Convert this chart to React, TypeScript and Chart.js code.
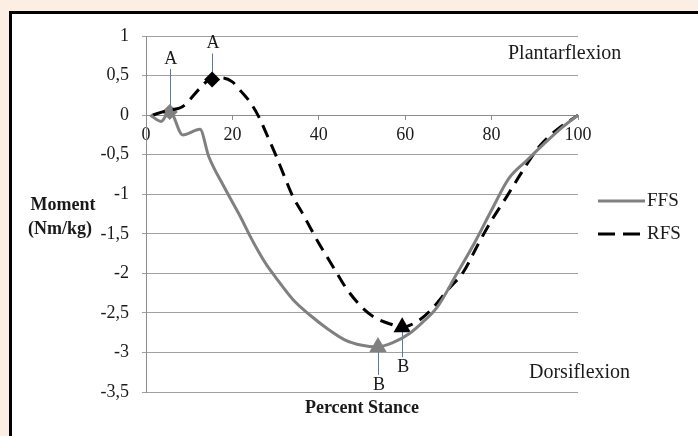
import { useEffect, useRef } from "react";
import { Chart, registerables } from "chart.js";

Chart.register(...registerables);

// ---- data ----
const SERIES_NAMES = ["FFS", "RFS"];

const FFS_X = [1, 3.5, 5.5, 8.5, 12.5, 14.5, 18, 22, 24, 26, 28, 30, 34, 38, 42, 46, 50, 53.5, 57, 61, 64, 67.5, 72, 76, 80, 84, 88, 92, 96, 100];
const FFS_Y = [0, -0.08, 0.05, -0.25, -0.18, -0.52, -0.9, -1.3, -1.52, -1.72, -1.9, -2.05, -2.33, -2.53, -2.7, -2.84, -2.91, -2.93, -2.88, -2.76, -2.62, -2.42, -2.0, -1.62, -1.2, -0.8, -0.58, -0.37, -0.17, 0];

const RFS_X = [1.5, 5, 8.5, 12.5, 15, 17.5, 20, 22, 24, 26, 28, 30, 32, 34, 36, 38, 40, 42, 44, 46.5, 50, 53, 56.5, 59.3, 63, 66, 70, 73.5, 77, 80, 83.5, 87, 91, 95, 100];
const RFS_Y = [0, 0.06, 0.11, 0.34, 0.46, 0.47, 0.42, 0.3, 0.17, -0.01, -0.25, -0.5, -0.77, -1.03, -1.22, -1.42, -1.62, -1.8, -1.98, -2.2, -2.43, -2.56, -2.64, -2.68, -2.6, -2.46, -2.2, -1.98, -1.62, -1.33, -1.03, -0.72, -0.4, -0.19, 0];

const MARK_LABELS = ["A", "B"];
const FFS_MARK_X = [5.5, 53.7];
const FFS_MARK_Y = [0.04, -2.93];
const RFS_MARK_X = [15.3, 59.3];
const RFS_MARK_Y = [0.45, -2.68];

const X_MIN = 0;
const X_MAX = 100;
const X_STEP = 20;
const Y_MIN = -3.5;
const Y_MAX = 1;
const Y_STEP = 0.5;

const SERIF = '"Liberation Serif", "Times New Roman", serif';
const GRAY = "#808080";
const TEXT = "#1a1a1a";
const LEADER = "#5a7ba3";

const toXY = (xs: number[], ys: number[]) => xs.map((x, i) => ({ x, y: ys[i] }));

const bgPlugin = {
  id: "bgFrame",
  beforeDraw(chart: any) {
    const { ctx, width, height } = chart;
    ctx.save();
    ctx.fillStyle = "#fdeee4";
    ctx.fillRect(0, 0, width, height);
    ctx.fillStyle = "#ffffff";
    ctx.fillRect(10, 12, width, height);
    ctx.strokeStyle = "#000";
    ctx.lineWidth = 3;
    ctx.strokeRect(10.5, 12.5, width + 20, height + 20);
    ctx.restore();
  },
};

// label offset (px) from marker centre, per series / per marker
const LABEL_DY = [
  [-53, 38],
  [-36, 40],
];

const annotPlugin = {
  id: "annot",
  beforeDatasetsDraw(chart: any) {
    const { ctx } = chart;
    const xs = chart.scales.x;
    const ys = chart.scales.y;
    const sets = [
      [FFS_MARK_X, FFS_MARK_Y],
      [RFS_MARK_X, RFS_MARK_Y],
    ];
    ctx.save();
    ctx.strokeStyle = LEADER;
    ctx.lineWidth = 1;
    sets.forEach(([mx, my], s) => {
      mx.forEach((v, i) => {
        const px = Math.round(xs.getPixelForValue(v)) + 0.5;
        const py = ys.getPixelForValue(my[i]);
        const dy = LABEL_DY[s][i];
        const end = py + dy + (dy < 0 ? 10 : -10);
        ctx.beginPath();
        ctx.moveTo(px, py);
        ctx.lineTo(px, end);
        ctx.stroke();
      });
    });
    ctx.restore();
  },
  afterDatasetsDraw(chart: any) {
    const { ctx } = chart;
    const xs = chart.scales.x;
    const ys = chart.scales.y;
    const sets = [
      [FFS_MARK_X, FFS_MARK_Y],
      [RFS_MARK_X, RFS_MARK_Y],
    ];
    ctx.save();
    ctx.fillStyle = TEXT;
    ctx.font = `18px ${SERIF}`;
    ctx.textAlign = "center";
    ctx.textBaseline = "middle";
    sets.forEach(([mx, my], s) => {
      mx.forEach((v, i) => {
        const px = xs.getPixelForValue(v);
        const py = ys.getPixelForValue(my[i]);
        ctx.fillText(MARK_LABELS[i], px + 1, py + LABEL_DY[s][i]);
      });
    });
    ctx.restore();
  },
  afterDraw(chart: any) {
    const { ctx, chartArea } = chart;
    ctx.save();
    ctx.fillStyle = TEXT;
    ctx.textBaseline = "middle";
    // axis titles
    ctx.font = `bold 18px ${SERIF}`;
    ctx.textAlign = "center";
    ctx.fillText("Moment", 63, 205);
    ctx.fillText("(Nm/kg)", 60, 229);
    ctx.fillText("Percent Stance", (chartArea.left + chartArea.right) / 2, 408);
    // region labels
    ctx.font = `20px ${SERIF}`;
    ctx.textAlign = "left";
    ctx.fillText("Plantarflexion", 508, 54);
    ctx.fillText("Dorsiflexion", 529, 373);
    // legend
    ctx.lineWidth = 3;
    ctx.lineCap = "butt";
    ctx.strokeStyle = GRAY;
    ctx.setLineDash([]);
    ctx.beginPath();
    ctx.moveTo(598, 201);
    ctx.lineTo(645, 201);
    ctx.stroke();
    ctx.strokeStyle = "#000";
    ctx.setLineDash([17, 8]);
    ctx.beginPath();
    ctx.moveTo(598, 234);
    ctx.lineTo(640, 234);
    ctx.stroke();
    ctx.setLineDash([]);
    ctx.font = `19px ${SERIF}`;
    ctx.fillText(SERIES_NAMES[0], 647, 201);
    ctx.fillText(SERIES_NAMES[1], 647, 234);
    ctx.restore();
  },
};

export default function App() {
  const ref = useRef<HTMLCanvasElement | null>(null);

  useEffect(() => {
    document.body.style.margin = "0";
    if (!ref.current) return;
    const chart = new Chart(ref.current, {
      type: "line",
      data: {
        datasets: [
          {
            label: SERIES_NAMES[0],
            data: toXY(FFS_X, FFS_Y),
            borderColor: GRAY,
            borderWidth: 3,
            pointRadius: 0,
            cubicInterpolationMode: "monotone",
            fill: false,
          },
          {
            label: SERIES_NAMES[1],
            data: toXY(RFS_X, RFS_Y),
            borderColor: "#000",
            borderWidth: 3,
            borderDash: [13, 8],
            pointRadius: 0,
            cubicInterpolationMode: "monotone",
            fill: false,
          },
          {
            label: "FFS A",
            data: [{ x: FFS_MARK_X[0], y: FFS_MARK_Y[0] }],
            showLine: false,
            pointStyle: "rectRot",
            pointRadius: 8,
            backgroundColor: GRAY,
            borderColor: GRAY,
            borderWidth: 0,
          },
          {
            label: "RFS A",
            data: [{ x: RFS_MARK_X[0], y: RFS_MARK_Y[0] }],
            showLine: false,
            pointStyle: "rectRot",
            pointRadius: 8,
            backgroundColor: "#000",
            borderColor: "#000",
            borderWidth: 0,
          },
          {
            label: "FFS B",
            data: [{ x: FFS_MARK_X[1], y: FFS_MARK_Y[1] }],
            showLine: false,
            pointStyle: "triangle",
            pointRadius: 10,
            backgroundColor: GRAY,
            borderColor: GRAY,
            borderWidth: 0,
          },
          {
            label: "RFS B",
            data: [{ x: RFS_MARK_X[1], y: RFS_MARK_Y[1] }],
            showLine: false,
            pointStyle: "triangle",
            pointRadius: 10,
            backgroundColor: "#000",
            borderColor: "#000",
            borderWidth: 0,
          },
        ],
      },
      options: {
        animation: false,
        responsive: true,
        maintainAspectRatio: false,
        layout: { padding: { left: 0, top: 36, right: 120, bottom: 44 } },
        plugins: {
          legend: { display: false },
          tooltip: { enabled: false },
          title: { display: false },
        },
        scales: {
          x: {
            type: "linear",
            position: { y: 0 } as any,
            min: X_MIN,
            max: X_MAX,
            grid: {
              drawOnChartArea: false,
              drawTicks: true,
              tickLength: 4,
              color: "#8c8c8c",
            },
            border: { color: "#8c8c8c", width: 1 },
            ticks: {
              stepSize: X_STEP,
              padding: 5,
              color: TEXT,
              font: { family: SERIF, size: 18 },
              maxRotation: 0,
            },
          },
          y: {
            type: "linear",
            min: Y_MIN,
            max: Y_MAX,
            afterFit(scale: any) {
              scale.width = 146;
            },
            grid: {
              color: "#a0a0a0",
              lineWidth: 1,
              tickLength: 4,
            },
            border: { color: "#8c8c8c", width: 1 },
            ticks: {
              stepSize: Y_STEP,
              padding: 13,
              color: TEXT,
              font: { family: SERIF, size: 18 },
              callback: (v: any) => String(v).replace(".", ","),
            },
          },
        },
      },
      plugins: [bgPlugin, annotPlugin],
    });
    return () => chart.destroy();
  }, []);

  return (
    <div style={{ position: "relative", width: 698, height: 436 }}>
      <canvas ref={ref} />
    </div>
  );
}
